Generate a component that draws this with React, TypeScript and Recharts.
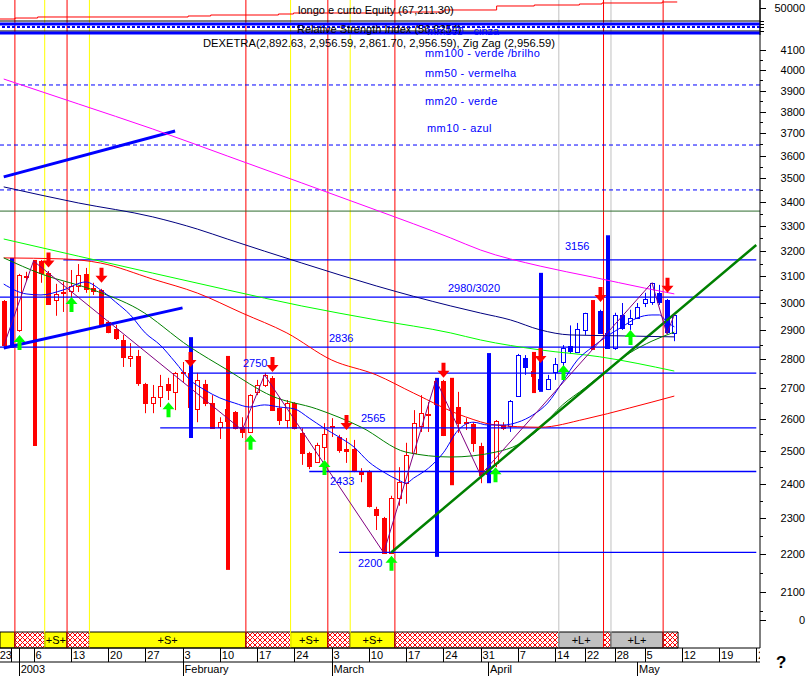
import React from "react";
import {
  ComposedChart,
  Bar,
  Line,
  XAxis,
  YAxis,
  ReferenceLine,
  ReferenceArea,
} from "recharts";

const FONT = "'Liberation Sans', Arial, sans-serif";
const RED = "#ff0000";
const BLUE = "#0000ff";

// trading days shown on the axis (Dec 27 2002 .. May 26 2003)
const days = [
  "Dec 27", "Dec 30", "Jan 2", "Jan 3", "Jan 6", "Jan 7", "Jan 8", "Jan 9", "Jan 10",
  "Jan 13", "Jan 14", "Jan 15", "Jan 16", "Jan 17",
  "Jan 20", "Jan 21", "Jan 22", "Jan 23", "Jan 24",
  "Jan 27", "Jan 28", "Jan 29", "Jan 30", "Jan 31",
  "Feb 3", "Feb 4", "Feb 5", "Feb 6", "Feb 7",
  "Feb 10", "Feb 11", "Feb 12", "Feb 13", "Feb 14",
  "Feb 17", "Feb 18", "Feb 19", "Feb 20", "Feb 21",
  "Feb 24", "Feb 25", "Feb 26", "Feb 27", "Feb 28",
  "Mar 3", "Mar 4", "Mar 5", "Mar 6", "Mar 7",
  "Mar 10", "Mar 11", "Mar 12", "Mar 13", "Mar 14",
  "Mar 17", "Mar 18", "Mar 19", "Mar 20", "Mar 21",
  "Mar 24", "Mar 25", "Mar 26", "Mar 27", "Mar 28",
  "Mar 31", "Apr 1", "Apr 2", "Apr 3", "Apr 4",
  "Apr 7", "Apr 8", "Apr 9", "Apr 10", "Apr 11",
  "Apr 14", "Apr 15", "Apr 16", "Apr 17",
  "Apr 22", "Apr 23", "Apr 24", "Apr 25",
  "Apr 28", "Apr 29", "Apr 30", "May 2",
  "May 5", "May 6", "May 7", "May 8", "May 9",
  "May 12", "May 13", "May 14", "May 15", "May 16",
  "May 19", "May 20", "May 21", "May 22", "May 23",
  "May 26",
];

// DEXETRA daily OHLC (null = only the thick bar is visible that day)
const open = [
  3007, null, 2902, 3103, null, 3160, 3114, 3011, 3036, 3045,
  3064, 3110, 3057, 3049, 2931, 2906, 2866, 2803, 2810, 2714,
  2651, 2671, 2714, 2688, 2755, 2752, 2631, 2714, 2651, 2573,
  2592, 2621, 2573, 2558, 2688, 2711, 2735, 2635, 2596, 2651,
  2555, 2493, 2465, 2511, 2573, 2542, 2505, 2505, 2434, 2437,
  2326, 2300, 2203, 2358, 2401, 2493, 2576, 2612, 2648, 2724,
  null, 2638, 2589, 2583, 2514, 2446, 2462, 2580, 2576, 2674,
  2803, 2758, 2731, 2697, 2755, 2789, 2845, 2824, 2902, null,
  2971, 2891, 2838, 2956, 2924, 2946, 3000, 3004, 3038, 3011,
  2892.63,
];
const high = [
  3011, null, 3110, 3118, null, 3164, 3121, 3072, 3080, 3125,
  3148, 3133, 3076, 3053, 2935, 2920, 2884, 2855, 2831, 2718,
  2711, 2745, 2735, 2755, 2789, 2758, 2752, 2728, 2677, 2605,
  2635, 2625, 2605, 2680, 2728, 2752, 2741, 2671, 2661, 2654,
  2570, 2496, 2524, 2586, 2602, 2549, 2539, 2533, 2446, 2440,
  2332, 2303, 2364, 2449, 2524, 2628, 2677, 2654, 2731, 2728,
  null, 2688, 2602, 2589, 2524, 2449, 2596, 2589, 2661, 2817,
  2813, 2762, 2735, 2745, 2803, 2848, 2918, 2927, 2964, null,
  2975, 2895, 2964, 3000, 2975, 3000, 3038, 3076, 3068, 3015,
  2956.59,
];
const low = [
  2840, null, 2895, 3083, null, 3076, 2995, 2953, 2967, 2967,
  3041, 3038, 3030, 2915, 2890, 2866, 2772, 2772, 2708, 2618,
  2618, 2638, 2661, 2628, 2721, 2630, 2589, 2641, 2570, 2536,
  2585, 2566, 2539, 2555, 2677, 2704, 2625, 2580, 2570, 2566,
  2456, 2443, 2462, 2471, 2542, 2493, 2462, 2434, 2404, 2330,
  2266, 2200, 2200, 2335, 2341, 2493, 2558, 2558, 2645, 2545,
  null, 2555, 2564, 2496, 2401, 2425, 2449, 2564, 2558, 2671,
  2745, 2738, 2694, 2694, 2728, 2755, 2817, 2824, 2884, null,
  2888, 2838, 2831, 2902, 2902, 2942, 2985, 2993, 2993, 2888,
  2861.7,
];
const close = [
  2848, null, 3106, 3100, null, 3114, 2997, 3034, 3040, 3064,
  3106, 3053, 3045, 2920, 2895, 2873, 2806, 2810, 2718, 2651,
  2671, 2708, 2694, 2752, 2750, 2638, 2728, 2651, 2570, 2589,
  2631, 2570, 2558, 2677, 2711, 2745, 2628, 2596, 2651, 2570,
  2493, 2452, 2518, 2552, 2576, 2502, 2499, 2440, 2428, 2335,
  2309, 2203, 2358, 2404, 2487, 2586, 2618, 2615, 2724, 2549,
  null, 2586, 2586, 2524, 2425, 2428, 2592, 2570, 2658, 2813,
  2772, 2741, 2697, 2731, 2782, 2838, 2827, 2906, 2964, null,
  2891, 2838, 2956, 2909, 2946, 2985, 3015, 3076, 3004, 2895,
  2956.59,
];
// r = red candle, b = blue candle
const tone =
  "rrrrrrrrrr" + "rrrrrrrrrr" + "rrrrrrrrrr" + "rrrrrrrrrr" + "rrrrrrrrrr" +
  "rrrrrrrrrr" + "rrrrrrrrbb" + "brbbbbbbbb" + "bbbbbbbbbb" + "b";

// thick signal bars: day, low, high, colour
const spikes: [string, number, number, string][] = [
  ["Dec 30", 2838, 3172, "b"],
  ["Jan 6", 2514, 3164, "r"],
  ["Feb 4", 2539, 2876, "b"],
  ["Feb 11", 2157, 2810, "r"],
  ["Mar 21", 2192, 2735, "b"],
  ["Mar 25", 2395, 2735, "r"],
  ["Apr 1", 2401, 2820, "b"],
  ["Apr 9", 2684, 2824, "r"],
  ["Apr 10", 2688, 3114, "b"],
  ["Apr 23", 2831, 3011, "r"],
  ["Apr 25", 2838, 3262, "b"],
];

// moving averages, read at sampled days: [day index, value]
const ma10: [number, number][] = [
  [0, 3071], [3, 3034], [5, 3030], [8, 3049], [11, 3079], [13, 3049], [15, 3004],
  [17, 2956], [19, 2891], [21, 2848], [23, 2789], [25, 2728], [27, 2694], [29, 2668],
  [31, 2651], [33, 2638], [35, 2645], [37, 2638], [39, 2632], [41, 2602], [43, 2570],
  [45, 2542], [47, 2511], [49, 2465], [51, 2434], [53, 2410], [54, 2401], [55, 2416],
  [57, 2446], [59, 2493], [61, 2564], [63, 2589], [65, 2580], [67, 2580], [69, 2589],
  [71, 2612], [73, 2651], [75, 2721], [77, 2796], [79, 2841], [81, 2880], [83, 2913],
  [85, 2945], [87, 2956], [88, 2956], [89, 2931], [90, 2913],
];
const ma20: [number, number][] = [
  [0, 3172], [5, 3110], [12, 3049], [18, 2978], [25, 2841], [30, 2762], [36, 2674],
  [42, 2632], [48, 2573], [54, 2495], [60, 2480], [66, 2495], [69, 2518], [72, 2570],
  [75, 2645], [78, 2701], [81, 2762], [84, 2820], [87, 2862], [90, 2894],
];
const ma50: [number, number][] = [
  [0, 3172], [8, 3168], [13, 3152], [20, 3090], [26, 3037], [32, 2963], [38, 2891],
  [44, 2796], [50, 2745], [55, 2684], [62, 2606], [66, 2580], [72, 2573], [78, 2599],
  [84, 2635], [90, 2674],
];
const ma100: [number, number][] = [
  [0, 3247], [10, 3179], [20, 3113], [30, 3049], [40, 2989], [50, 2938], [60, 2891],
  [64, 2866], [72, 2831], [80, 2807], [90, 2758],
];
const ma150: [number, number][] = [
  [0, 3463], [10, 3395], [20, 3337], [26, 3287], [30, 3247], [40, 3152], [50, 3064],
  [60, 2989], [64, 2963], [68, 2938], [72, 2902], [76, 2884], [82, 2881], [90, 2877],
];
const ma200: [number, number][] = [
  [0, 3957], [10, 3837], [20, 3720], [30, 3598], [40, 3480], [50, 3365], [60, 3251],
  [64, 3203], [72, 3140], [79, 3098], [86, 3056], [90, 3034],
];
const zigzag: [number, number][] = [
  [0, 2845], [4, 3160], [32, 2564], [35, 2745], [51, 2203], [58, 2728], [64, 2425],
  [87, 3076], [89, 2888], [90, 2957],
];
// signal arrows: [day index, price at arrow tip]
const sells: [number, number][] = [
  [6, 3135], [13, 3076], [25, 2772], [36, 2755], [46, 2564], [59, 2735], [72, 2786],
  [80, 3004], [89, 3038],
];
const buys: [number, number][] = [
  [2, 2884], [9, 3022], [22, 2654], [33, 2549], [43, 2471], [52, 2195], [66, 2449],
  [75, 2779], [84, 2902],
];
// equity curve (top panel): [day index where the level starts, value]
const equity: [number, number][] = [
  [0, 46871], [2, 47150], [5, 47443], [25, 47729], [28, 48014], [37, 48300], [39, 48586],
  [53, 48871], [59, 49443], [66, 50586], [71, 50871], [77, 51157], [80, 51443],
  [88, 51729], [90, 51729],
];

// support / resistance levels: value, first day (null = whole width)
const levels: [number, string | null][] = [
  [3164, "Jan 10"],
  [3022, null],
  [2841, null],
  [2751, "Feb 4"],
  [2571, "Jan 29"],
  [2436, "Feb 26"],
  [2204, "Mar 4"],
];
const dashedLevels = [3928, 3647, 3450];
const greyLevel = 3361;

// signal strip: first day, last day, kind, label
const strip: [string, string, string, string][] = [
  ["Dec 27", "Dec 30", "S", ""],
  ["Jan 2", "Jan 7", "X", ""],
  ["Jan 8", "Jan 10", "S", "+S+"],
  ["Jan 13", "Jan 15", "X", ""],
  ["Jan 16", "Feb 13", "S", "+S+"],
  ["Feb 14", "Feb 21", "X", ""],
  ["Feb 24", "Feb 28", "S", "+S+"],
  ["Mar 3", "Mar 5", "X", ""],
  ["Mar 6", "Mar 13", "S", "+S+"],
  ["Mar 14", "Apr 14", "X", ""],
  ["Apr 15", "Apr 24", "L", "+L+"],
  ["Apr 25", "Apr 25", "X", ""],
  ["Apr 28", "May 7", "L", "+L+"],
  ["May 8", "May 9", "X", ""],
];

const weekTicks: [string, string, boolean][] = [
  ["Dec 27", "23", false], ["Dec 30", "", true], ["Jan 2", "", true],
  ["Jan 6", "6", true], ["Jan 13", "13", true], ["Jan 20", "20", true],
  ["Jan 27", "27", true], ["Feb 3", "3", true], ["Feb 10", "10", true],
  ["Feb 17", "17", true], ["Feb 24", "24", true], ["Mar 3", "3", true],
  ["Mar 10", "10", true], ["Mar 17", "17", true], ["Mar 24", "24", true],
  ["Mar 31", "31", true], ["Apr 7", "7", true], ["Apr 14", "14", true],
  ["Apr 22", "22", true], ["Apr 28", "28", true], ["May 5", "5", true],
  ["May 12", "12", true], ["May 19", "19", true], ["May 26", "26", true],
];
const monthTicks: [string, string][] = [
  ["Jan 2", "2003"], ["Feb 3", "February"], ["Mar 3", "March"],
  ["Apr 1", "April"], ["May 2", "May"],
];

const priceTicks = [
  4100, 4050, 4000, 3950, 3900, 3850, 3800, 3750, 3700, 3650, 3600, 3550,
  3500, 3450, 3400, 3350, 3300, 3250, 3200, 3150, 3100, 3050, 3000, 2950,
  2900, 2850, 2800, 2750, 2700, 2650, 2600, 2550, 2500, 2450, 2400, 2350,
  2300, 2250, 2200, 2150, 2100, 2050, 2027.5,
];
const priceLabels: Record<string, string> = {
  "4100": "4100", "4000": "4000", "3900": "3900", "3800": "3800", "3700": "3700",
  "3600": "3600", "3500": "3500", "3400": "3400", "3300": "3300", "3200": "3200",
  "3100": "3100", "3000": "3000", "2900": "2900", "2800": "2800", "2700": "2700",
  "2600": "2600", "2500": "2500", "2400": "2400", "2300": "2300", "2200": "2200",
  "2100": "2100", "2027.5": "0",
};

const PRICE_MIN = 1958.5;
const PRICE_MAX = 4363;
const STRIP_TOP = 1997.6;

const toMap = (pts: [number, number][]) => new Map(pts);
const m10 = toMap(ma10), m20 = toMap(ma20), m50 = toMap(ma50), m100 = toMap(ma100);
const m150 = toMap(ma150), m200 = toMap(ma200), mzz = toMap(zigzag);
const mSell = toMap(sells), mBuy = toMap(buys);
const spikeMap = new Map(spikes.map((s) => [s[0], s]));
const weekMap = new Map(weekTicks.map((w) => [w[0], w]));
const monthMap = new Map(monthTicks);

const rows = days.map((d, i) => {
  const o = open[i];
  const sp = spikeMap.get(d);
  const los: number[] = [];
  const his: number[] = [];
  if (o != null) {
    los.push(low[i] as number);
    his.push(high[i] as number);
  }
  if (sp) {
    los.push(sp[1]);
    his.push(sp[2]);
  }
  return {
    d,
    rng: los.length ? [Math.min(...los), Math.max(...his)] : null,
    o: o ?? null,
    h: high[i] ?? null,
    l: low[i] ?? null,
    c: close[i] ?? null,
    tone: tone[i],
    sp: sp ? [sp[1], sp[2]] : null,
    spTone: sp ? sp[3] : null,
    ma10: m10.get(i) ?? null,
    ma20: m20.get(i) ?? null,
    ma50: m50.get(i) ?? null,
    ma100: m100.get(i) ?? null,
    ma150: m150.get(i) ?? null,
    ma200: m200.get(i) ?? null,
    zz: mzz.get(i) ?? null,
    sell: mSell.get(i) ?? null,
    buy: mBuy.get(i) ?? null,
  };
});

const topRows = days.map((d) => ({ d }));

// step segments of the equity curve, built from its change points
const equitySteps: { x1: string; y1: number; x2: string; y2: number }[] = [];
for (let k = 0; k < equity.length - 1; k++) {
  const [i0, v0] = equity[k];
  const [i1, v1] = equity[k + 1];
  equitySteps.push({ x1: days[i0], y1: v0, x2: days[i1], y2: v0 });
  if (v1 !== v0) equitySteps.push({ x1: days[i1], y1: v0, x2: days[i1], y2: v1 });
}

const ok = (n: any) => typeof n === "number" && Number.isFinite(n);

function CandleShape(props: any) {
  const { x, y, width, height, payload } = props;
  if (!payload || !payload.rng || !ok(x) || !ok(y) || !(height > 0)) return <g />;
  const [lo, hi] = payload.rng;
  const k = height / Math.log(hi / lo);
  const py = (v: number) => y + Math.log(hi / v) * k;
  const cx = Math.round(x + width / 2);
  const parts: React.ReactNode[] = [];
  if (payload.o != null) {
    const col = payload.tone === "b" ? BLUE : RED;
    const { o, h, l, c } = payload;
    const top = py(Math.max(o, c));
    const bot = py(Math.min(o, c));
    parts.push(
      <line key="w" x1={cx + 0.5} x2={cx + 0.5} y1={py(h)} y2={py(l)} stroke={col} />
    );
    parts.push(
      <rect
        key="b"
        x={cx - 1.5}
        y={Math.round(top) + 0.5}
        width={4}
        height={Math.max(1, Math.round(bot - top))}
        fill={c > o ? "#fff" : col}
        stroke={col}
      />
    );
  }
  if (payload.sp) {
    const [a, b] = payload.sp;
    parts.push(
      <rect
        key="s"
        x={cx - 1}
        y={py(b)}
        width={4}
        height={py(a) - py(b)}
        fill={payload.spTone === "b" ? BLUE : RED}
      />
    );
  }
  return <g>{parts}</g>;
}

function SellArrow(props: any) {
  const { cx, cy, payload } = props;
  if (!payload || payload.sell == null || !ok(cx) || !ok(cy)) return <g key={props.key} />;
  const x = Math.round(cx) + 0.5;
  const d = `M${x - 2},${cy - 15} L${x + 2},${cy - 15} L${x + 2},${cy - 7} L${x + 6},${cy - 7} L${x},${cy} L${x - 6},${cy - 7} L${x - 2},${cy - 7} Z`;
  return <path key={props.key} d={d} fill={RED} />;
}

function BuyArrow(props: any) {
  const { cx, cy, payload } = props;
  if (!payload || payload.buy == null || !ok(cx) || !ok(cy)) return <g key={props.key} />;
  const x = Math.round(cx) + 0.5;
  const d = `M${x - 2},${cy + 15} L${x + 2},${cy + 15} L${x + 2},${cy + 7} L${x + 6},${cy + 7} L${x},${cy} L${x - 6},${cy + 7} L${x - 2},${cy + 7} Z`;
  return <path key={props.key} d={d} fill="#00ff00" />;
}

function DayTick(props: any) {
  const { x, payload } = props;
  const w = weekMap.get(payload.value);
  if (!w) return <g />;
  const [, label, sep] = w;
  const lx = Math.round(x) + 0.5;
  return (
    <g>
      {sep && <line x1={lx} x2={lx} y1={648} y2={662} stroke="#000" />}
      {label && (
        <text
          x={sep ? x + 2 : x - 4}
          y={659}
          fontSize={11}
          fontFamily={FONT}
          fill="#000"
          clipPath="url(#axisClip)"
        >
          {label}
        </text>
      )}
    </g>
  );
}

function MonthTick(props: any) {
  const { x, payload } = props;
  const m = monthMap.get(payload.value);
  if (!m) return <g />;
  const lx = Math.round(x) + 0.5;
  return (
    <g>
      <line x1={lx} x2={lx} y1={662} y2={676} stroke="#000" />
      <text x={x + 2} y={673} fontSize={11} fontFamily={FONT} fill="#000">
        {m}
      </text>
    </g>
  );
}

function PriceTick(props: any) {
  const { y, payload } = props;
  const label = priceLabels[String(payload.value)];
  const yy = Math.round(y) + 0.5;
  return (
    <g>
      <line x1={760} x2={label ? 766 : 763} y1={yy} y2={yy} stroke="#000" />
      {label && (
        <text x={805} y={y + 4} textAnchor="end" fontSize={11} fontFamily={FONT} fill="#000">
          {label}
        </text>
      )}
    </g>
  );
}

function TopTick(props: any) {
  const { y, payload } = props;
  const yy = Math.round(y) + 0.5;
  const big = payload.value === 50000;
  return (
    <g>
      <line x1={760} x2={big ? 766 : 764} y1={yy} y2={yy} stroke="#000" />
      {big && (
        <text x={805} y={y + 4} textAnchor="end" fontSize={11} fontFamily={FONT} fill="#000">
          50000
        </text>
      )}
    </g>
  );
}

const stripFill: Record<string, string> = { S: "#ffff00", L: "#c0c0c0", X: "url(#hatch)" };
const lineStarts: [string, string][] = [
  ["Jan 2", RED], ["Jan 8", "#ffff00"], ["Jan 13", RED], ["Jan 16", "#ffff00"],
  ["Feb 14", RED], ["Feb 24", "#ffff00"], ["Mar 3", RED], ["Mar 6", "#ffff00"],
  ["Mar 14", RED], ["Apr 15", "#c0c0c0"], ["Apr 25", RED], ["Apr 28", "#c0c0c0"],
  ["May 8", RED],
];

const notes: [string, number, number][] = [
  ["3156", 565, 250],
  ["2980/3020", 448, 292],
  ["2836", 329, 342],
  ["2750", 243, 367],
  ["2565", 361, 422],
  ["2433", 330, 485],
  ["2200", 358, 567],
];

const lineProps = {
  dot: false,
  activeDot: false,
  connectNulls: true,
  isAnimationActive: false,
  strokeWidth: 1,
} as const;

export default function App() {
  const last = days[days.length - 1];
  return (
    <div
      style={{
        position: "absolute",
        left: 0,
        top: 0,
        width: 807,
        height: 676,
        background: "#fff",
        overflow: "hidden",
      }}
    >
      <div style={{ position: "absolute", left: 0, top: 0 }}>
        <ComposedChart
          width={807}
          height={676}
          data={rows}
          margin={{ top: 0, right: 0, bottom: 0, left: 0 }}
        >
          <defs>
            <pattern id="hatch" width="5" height="5" patternUnits="userSpaceOnUse">
              <rect width="5" height="5" fill="#fff" />
              <path d="M0,0 L5,5 M5,0 L0,5" stroke={RED} strokeWidth="1" />
            </pattern>
            <clipPath id="axisClip">
              <rect x="0" y="640" width="760" height="40" />
            </clipPath>
          </defs>
          <XAxis
            dataKey="d"
            interval={0}
            height={14}
            tick={<DayTick />}
            tickLine={false}
            axisLine={{ stroke: "#000" }}
          />
          <XAxis
            xAxisId="mon"
            dataKey="d"
            interval={0}
            height={14}
            tick={<MonthTick />}
            tickLine={false}
            axisLine={{ stroke: "#000" }}
          />
          <YAxis
            type="number"
            orientation="right"
            width={47}
            scale="log"
            domain={[PRICE_MIN, PRICE_MAX]}
            allowDataOverflow
            ticks={priceTicks}
            interval={0}
            tick={<PriceTick />}
            tickLine={false}
            axisLine={{ stroke: "#000" }}
          />

          {strip.map(([a, b, kind, label], i) => (
            <ReferenceArea
              key={"st" + i}
              x1={a}
              x2={b}
              y1={PRICE_MIN}
              y2={STRIP_TOP}
              fill={stripFill[kind]}
              fillOpacity={1}
              stroke="#000"
              strokeWidth={1}
              label={
                label
                  ? { value: label, position: "center", fontSize: 11, fill: "#000", fontFamily: FONT }
                  : undefined
              }
            />
          ))}

          {lineStarts.map(([d, col], i) => (
            <ReferenceLine key={"v" + i} x={d} position="start" stroke={col} strokeWidth={1} />
          ))}

          {dashedLevels.map((v) => (
            <ReferenceLine key={"dl" + v} y={v} stroke={BLUE} strokeDasharray="4 3" />
          ))}
          <ReferenceLine y={greyLevel} stroke="#2e6b2e" />
          {levels.map(([v, from]) =>
            from ? (
              <ReferenceLine
                key={"lv" + v}
                stroke={BLUE}
                strokeWidth={1.3}
                segment={[
                  { x: from, y: v },
                  { x: last, y: v },
                ]}
              />
            ) : (
              <ReferenceLine key={"lv" + v} y={v} stroke={BLUE} strokeWidth={1.3} />
            )
          )}

          <ReferenceLine
            stroke={BLUE}
            strokeWidth={3}
            segment={[
              { x: "Dec 27", y: 3506 },
              { x: "Jan 31", y: 3711 },
            ]}
          />
          <ReferenceLine
            stroke={BLUE}
            strokeWidth={3}
            segment={[
              { x: "Dec 27", y: 2838 },
              { x: "Feb 3", y: 2982 },
            ]}
          />
          <ReferenceLine
            stroke="#008000"
            strokeWidth={2.5}
            segment={[
              { x: "Mar 13", y: 2204 },
              { x: last, y: 3223 },
            ]}
          />

          <Bar dataKey="rng" shape={<CandleShape />} isAnimationActive={false} />

          <Line dataKey="ma200" type="monotone" stroke="#ff00ff" {...lineProps} />
          <Line dataKey="ma150" type="monotone" stroke="#000080" {...lineProps} />
          <Line dataKey="ma100" type="monotone" stroke="#00ff00" {...lineProps} />
          <Line dataKey="ma50" type="monotone" stroke={RED} {...lineProps} />
          <Line dataKey="ma20" type="monotone" stroke="#008000" {...lineProps} />
          <Line dataKey="ma10" type="monotone" stroke={BLUE} {...lineProps} />
          <Line dataKey="zz" type="linear" stroke="#800080" {...lineProps} />

          <Line dataKey="sell" stroke="none" strokeWidth={0} dot={SellArrow} activeDot={false} isAnimationActive={false} />
          <Line dataKey="buy" stroke="none" strokeWidth={0} dot={BuyArrow} activeDot={false} isAnimationActive={false} />
        </ComposedChart>
      </div>

      <div style={{ position: "absolute", left: 0, top: 0, width: 807, height: 35, overflow: "hidden" }}>
        <ComposedChart
          width={807}
          height={35}
          data={topRows}
          margin={{ top: 0, right: 0, bottom: 0, left: 0 }}
        >
          <XAxis dataKey="d" hide />
          <YAxis
            type="number"
            orientation="right"
            width={47}
            domain={[42300, 52300]}
            allowDataOverflow
            ticks={[50000, 46300, 45443, 44586, 43443]}
            interval={0}
            tick={<TopTick />}
            tickLine={false}
            axisLine={{ stroke: "#000" }}
          />
          <ReferenceLine y={46300} stroke="#000" />
          <ReferenceLine y={45443} stroke={BLUE} strokeWidth={3} />
          <ReferenceLine y={44586} stroke={BLUE} strokeWidth={2} strokeDasharray="3 2" />
          <ReferenceLine y={43443} stroke="#000" />
          <ReferenceLine y={42871} stroke={BLUE} strokeWidth={3} />
          {equitySteps.map((s, i) => (
            <ReferenceLine
              key={"eq" + i}
              stroke={RED}
              strokeWidth={1}
              segment={[
                { x: s.x1, y: s.y1 },
                { x: s.x2, y: s.y2 },
              ]}
            />
          ))}
        </ComposedChart>
      </div>

      <svg
        width={807}
        height={676}
        style={{ position: "absolute", left: 0, top: 0, pointerEvents: "none" }}
      >
        <g fontFamily={FONT} fontSize={11}>
          <text x={298} y={14} fill="#000">longo e curto Equity (67,211.30)</text>
          <text x={297} y={33} fill="#000">Relative Strength Index (56.6254)</text>
          <text x={427} y={35} fill={BLUE}>mm150 - cinza</text>
          <text x={203} y={47} fill="#000" textLength={352} lengthAdjust="spacingAndGlyphs">
            DEXETRA(2,892.63, 2,956.59, 2,861.70, 2,956.59), Zig Zag (2,956.59)
          </text>
          <text x={425} y={57} fill={BLUE} letterSpacing={0.4}>mm100 - verde /brilho</text>
          <text x={425} y={77} fill={BLUE} letterSpacing={0.4}>mm50 - vermelha</text>
          <text x={425} y={105} fill={BLUE} letterSpacing={0.4}>mm20 - verde</text>
          <text x={427} y={132} fill={BLUE} letterSpacing={0.4}>mm10 - azul</text>
          {notes.map(([t, x, y]) => (
            <text key={t} x={x} y={y} fill={BLUE}>
              {t}
            </text>
          ))}
        </g>
        <text x={776} y={668} fontFamily={FONT} fontSize={17} fontWeight="bold" fill="#000">
          ?
        </text>
      </svg>
    </div>
  );
}
